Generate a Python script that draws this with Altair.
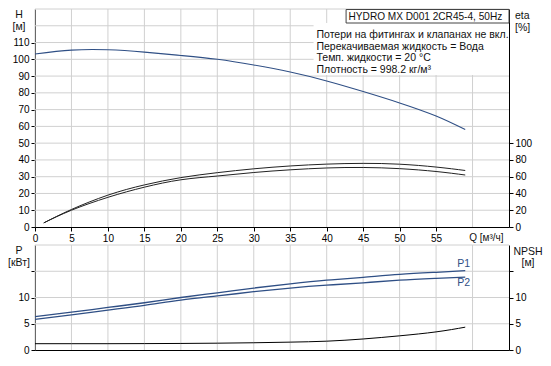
import altair as alt
import pandas as pd

# ---------------- data ----------------
q_h = [0, 5, 10, 15, 20, 25, 30, 35, 40, 45, 50, 55, 59]
h_vals = [103.2, 105.5, 105.7, 104.3, 102.3, 100.0, 96.6, 92.4, 87.1, 80.8, 74.0, 66.2, 58.1]

q_eta = [1.2, 5, 10, 15, 20, 25, 30, 35, 40, 45, 50, 55, 59]
eta1 = [4.9, 20.9, 38.0, 50.2, 58.9, 64.8, 69.4, 72.8, 75.0, 75.9, 74.9, 71.5, 67.4]
eta2 = [4.9, 20.0, 35.4, 47.5, 56.3, 60.8, 65.0, 68.2, 70.4, 71.0, 69.6, 66.2, 62.0]

q_p = [0, 5, 10, 15, 20, 25, 30, 35, 40, 45, 50, 55, 59]
p1 = [6.35, 7.2, 8.1, 9.0, 10.0, 10.9, 11.8, 12.6, 13.3, 13.85, 14.4, 14.8, 15.1]
p2 = [5.85, 6.7, 7.6, 8.5, 9.5, 10.3, 11.1, 11.8, 12.35, 12.8, 13.3, 13.65, 13.9]
npsh = [1.2, 1.2, 1.2, 1.22, 1.25, 1.3, 1.38, 1.5, 1.68, 2.1, 2.7, 3.45, 4.35]

q_ticks = [0, 5, 10, 15, 20, 25, 30, 35, 40, 45, 50, 55]
q_grid = [0, 5, 10, 15, 20, 25, 30, 35, 40, 45, 50, 55, 60]
h_grid = [10, 20, 30, 40, 50, 60, 70, 80, 90, 100, 110, 120, 130]
h_ticks = [0, 10, 20, 30, 40, 50, 60, 70, 80, 90, 100, 110]
eta_ticks = [0, 20, 40, 60, 80, 100]
p_grid = [5, 10, 15, 20]
p_ticks = [0, 5, 10, 15]

info_title = "HYDRO MX D001 2CR45-4, 50Hz"
info_lines = [
    "Потери на фитингах и клапанах не вкл.",
    "Перекачиваемая жидкость = Вода",
    "Темп. жидкости = 20 °C",
    "Плотность = 998.2 кг/м³",
]
q_label = "Q [м³/ч]"

# ---------------- styling ----------------
W, H1, H2 = 474, 218, 105
FONT = "Liberation Sans"
BLUE = "#2f4f85"
DARK = "#222222"
INTERP = "natural"
GRID_STYLE = dict(stroke="#d0d0d0", strokeWidth=1)

xs = alt.Scale(domain=[0, 65], nice=False, zero=False)
hs = alt.Scale(domain=[0, 130], nice=False)
es = alt.Scale(domain=[0, 260], nice=False)
ps = alt.Scale(domain=[0, 20], nice=False)

dummy = pd.DataFrame({"a": [0]})

AX_TOP = dict(values=q_ticks, title=None, grid=False, labelOverlap=False)
AX_BOT = dict(values=q_ticks, title=None, grid=False, labels=False, ticks=False)


def label(text, x, y, align="center", size=10.5):
    return alt.Chart(dummy).mark_text(
        text=text, align=align, baseline="middle", font=FONT, fontSize=size, color="#111"
    ).encode(x=alt.value(x), y=alt.value(y))


def qtext(text, q, y, ax, align="left", size=10.5, color="#111"):
    return alt.Chart(pd.DataFrame({"q": [q], "t": [text]})).mark_text(
        align=align, baseline="middle", font=FONT, fontSize=size, color=color
    ).encode(x=alt.X("q:Q", scale=xs, axis=alt.Axis(**ax)), y=alt.value(y), text="t:N")


def vgrid(ax, height):
    return alt.Chart(pd.DataFrame({"q": q_grid})).mark_rule(**GRID_STYLE).encode(
        x=alt.X("q:Q", scale=xs, axis=alt.Axis(**ax)), y=alt.value(0), y2=alt.value(height))


def hgrid(vals, scale):
    return alt.Chart(pd.DataFrame({"v": vals})).mark_rule(**GRID_STYLE).encode(
        y=alt.Y("v:Q", scale=scale, axis=None), x=alt.value(0), x2=alt.value(W))


# ---------------- top panel ----------------
df_h = pd.DataFrame({"q": q_h, "h": h_vals})
df_e = pd.DataFrame({"q": q_eta, "e1": eta1, "e2": eta2})

h_line = alt.Chart(df_h).mark_line(color=BLUE, strokeWidth=1.1, interpolate=INTERP).encode(
    x=alt.X("q:Q", scale=xs, axis=alt.Axis(**AX_TOP)),
    y=alt.Y("h:Q", scale=hs, axis=alt.Axis(values=h_ticks, orient="left", title=None, grid=False)))

white_bg = alt.Chart(pd.DataFrame({"a": [38.2], "b": [65]})).mark_rect(color="white").encode(
    x=alt.X("a:Q", scale=xs, axis=alt.Axis(**AX_TOP)), x2="b:Q", y=alt.value(14), y2=alt.value(66))
title_box = alt.Chart(pd.DataFrame({"a": [42.66], "b": [65]})).mark_rect(
    fill="white", stroke="#444444", strokeWidth=1).encode(
    x=alt.X("a:Q", scale=xs, axis=alt.Axis(**AX_TOP)), x2="b:Q", y=alt.value(0.5), y2=alt.value(14))

e1_line = alt.Chart(df_e).mark_line(color=DARK, strokeWidth=1, interpolate=INTERP).encode(
    x=alt.X("q:Q", scale=xs, axis=alt.Axis(**AX_TOP)),
    y=alt.Y("e1:Q", scale=es, axis=alt.Axis(values=eta_ticks, orient="right", title=None, grid=False)))
e2_line = alt.Chart(df_e).mark_line(color=DARK, strokeWidth=1, interpolate=INTERP).encode(
    x=alt.X("q:Q", scale=xs, axis=alt.Axis(**AX_TOP)),
    y=alt.Y("e2:Q", scale=es, axis=None))

top_layers = [vgrid(AX_TOP, H1), hgrid(h_grid, hs), white_bg, title_box,
              h_line, e1_line, e2_line, qtext(info_title, 43.0, 7.5, AX_TOP, size=10.1)]
for i, line in enumerate(info_lines):
    top_layers.append(qtext(line, 38.6, 26 + i * 11.7, AX_TOP))
top_layers += [
    qtext(q_label, 59.55, H1 + 10.5, AX_TOP, size=10),
    label("H", -16, 6),
    label("[м]", -16, 17.5),
    label("eta", W + 6, 7, align="left"),
    label("[%]", W + 6, 19, align="left"),
]
top = alt.layer(*top_layers).resolve_scale(y="independent").properties(width=W, height=H1)

# ---------------- bottom panel ----------------
df_p = pd.DataFrame({"q": q_p, "p1": p1, "p2": p2, "n": npsh})

hide15 = "datum.value == 15 ? '' : datum.label"
p1_line = alt.Chart(df_p).mark_line(color=BLUE, strokeWidth=1.3, interpolate=INTERP).encode(
    x=alt.X("q:Q", scale=xs, axis=alt.Axis(**AX_BOT)),
    y=alt.Y("p1:Q", scale=ps, axis=alt.Axis(values=p_ticks, orient="left", title=None,
                                             grid=False, labelExpr=hide15)))
p2_line = alt.Chart(df_p).mark_line(color=BLUE, strokeWidth=1.3, interpolate=INTERP).encode(
    x=alt.X("q:Q", scale=xs, axis=alt.Axis(**AX_BOT)),
    y=alt.Y("p2:Q", scale=ps, axis=None))
n_line = alt.Chart(df_p).mark_line(color="black", strokeWidth=1, interpolate=INTERP).encode(
    x=alt.X("q:Q", scale=xs, axis=alt.Axis(**AX_BOT)),
    y=alt.Y("n:Q", scale=ps, axis=alt.Axis(values=p_ticks, orient="right", title=None,
                                            grid=False, labelExpr=hide15)))

p_labels = alt.Chart(pd.DataFrame({"q": [58.8, 58.8], "p": [16.4, 12.8], "t": ["P1", "P2"]})).mark_text(
    align="center", baseline="middle", font=FONT, fontSize=10.5, color=BLUE).encode(
    x=alt.X("q:Q", scale=xs, axis=alt.Axis(**AX_BOT)), y=alt.Y("p:Q", scale=ps, axis=None), text="t:N")

bottom = alt.layer(
    vgrid(AX_BOT, H2), hgrid(p_grid, ps),
    p1_line, p2_line, n_line, p_labels,
    label("P", -16, 6),
    label("[кВт]", -16, 18),
    label("NPSH", W + 19, 7),
    label("[м]", W + 19, 18),
).resolve_scale(y="independent").properties(width=W, height=H2)

chart = alt.vconcat(top, bottom, spacing=1, padding=0).configure_view(stroke=None).configure_axis(
    labelFont=FONT, labelFontSize=10, labelColor="black", domainColor="black", tickColor="black",
    tickSize=4, labelPadding=2, labelFlush=False, labelOverlap=False, domainWidth=1, tickWidth=1)

chart.save("out.html", embed_options={"renderer": "svg", "actions": False})
